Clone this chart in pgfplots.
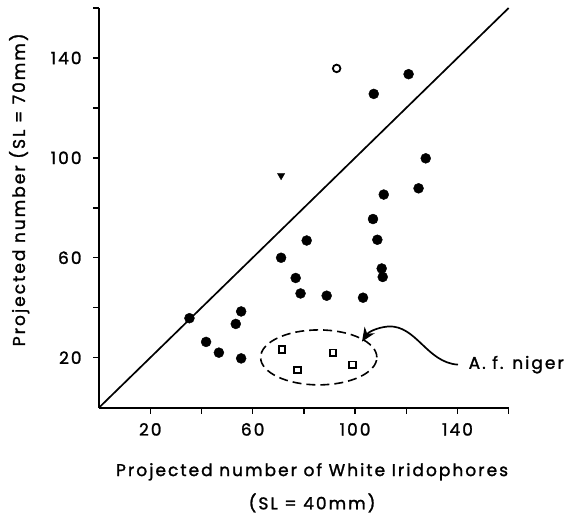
\documentclass[border=0pt]{standalone}
\usepackage{pgfplots}
\pgfplotsset{compat=1.18}
\usepackage{fontspec}
\setmainfont{Poppins}[LetterSpace=12, FakeBold=1.5]
\usetikzlibrary{arrows.meta}
\newcommand{\tfont}{\fontsize{17}{20}\selectfont}
\begin{document}
\begin{tikzpicture}
\begin{axis}[
  width=410pt, height=400pt, scale only axis,
  xmin=0, xmax=160, ymin=0, ymax=160,
  axis lines*=left,
  axis line style={-, line width=2pt},
  xtick={20,40,...,160}, xticklabels={20,,60,,100,,140,},
  ytick={20,40,...,160}, yticklabels={20,,60,,100,,140,},
  tick align=outside,
  major tick length=6pt,
  tick style={line width=1.5pt, black},
  tick label style={font=\tfont},
  /pgf/number format/assume math mode=true,
  xticklabel style={yshift=-6pt},
  yticklabel style={xshift=-8pt},
  clip=false,
  xlabel={Projected number of White Iridophores\\[12pt](SL = 40mm)},
  xlabel style={at={(rel axis cs:0.52,0)}, anchor=north, yshift=-52pt, align=center, font=\tfont},
  ylabel={Projected number (SL = 70mm)},
  ylabel style={at={(rel axis cs:-0.195,0.545)}, anchor=center, font=\tfont},
]
\path (axis cs:-38.7,-43.2) rectangle (axis cs:182,163.2);
\addplot[black, line width=1.7pt] coordinates {(0,0) (160,160)};
\addplot[only marks, mark=*, mark size=5pt, black] coordinates {
(120.9,133.5) (107.3,125.6) (127.6,99.8) (124.8,87.8) (111.2,85.3)
(107.0,75.5) (108.7,67.2) (110.4,55.7) (110.8,52.3) (103.1,44.0)
(88.9,44.8) (78.7,45.7) (76.8,51.9) (81.1,66.9) (71.1,60.0)
(55.5,38.5) (53.4,33.5) (35.3,35.8) (41.8,26.3) (46.8,22.0) (55.5,19.7)};
\addplot[only marks, mark=o, mark size=3.8pt, black, mark options={line width=1.8pt}] coordinates {(92.8,135.8)};
\addplot[only marks, mark=triangle*, mark size=4.2pt, black, mark options={rotate=180}] coordinates {(71.1,92.9)};
\addplot[only marks, mark=square, mark size=3.2pt, black, mark options={line width=1.8pt}] coordinates {
(71.4,23.3) (77.5,15.1) (91.3,22.0) (99.0,17.2)};
\draw[line width=1.6pt, dash pattern=on 9pt off 5pt] (axis cs:85.8,20.1) ellipse [x radius=22.7, y radius=11];
\draw[line width=1.7pt, -{Stealth[length=14pt, width=12pt]}] (axis cs:140.2,17.2) .. controls (axis cs:128,18) and (axis cs:124,33) .. (axis cs:113,32.5) .. controls (axis cs:108,32) and (axis cs:105,30) .. (axis cs:102.7,26.4);
\node[anchor=west, font=\tfont, inner xsep=0pt] at (axis cs:144.3,17.2) {A. f. niger};
\end{axis}
\end{tikzpicture}
\end{document}
